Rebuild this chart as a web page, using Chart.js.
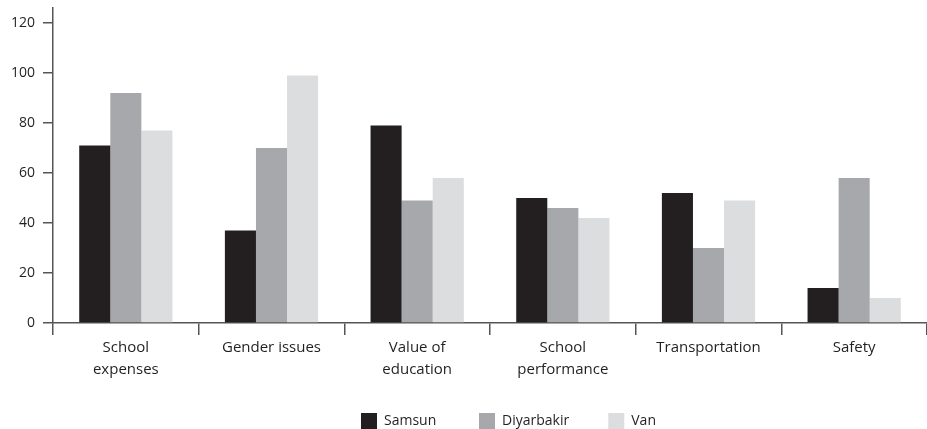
<!DOCTYPE html>
<html>
<head>
<meta charset="utf-8">
<script src="https://cdn.jsdelivr.net/npm/chart.js@4"></script>
<style>
  html, body { margin: 0; padding: 0; background: #fff; }
  #wrap { width: 927px; height: 429px; }
</style>
</head>
<body>
<div id="wrap"><canvas id="myChart"></canvas></div>
<script>
// data
var categories = [["School", "expenses"], "Gender issues", ["Value of", "education"], ["School", "performance"], "Transportation", "Safety"];
var samsun = [71, 37, 79, 50, 52, 14];
var diyarbakir = [92, 70, 49, 46, 30, 58];
var van = [77, 99, 58, 42, 49, 10];
var seriesNames = ["Samsun", "Diyarbakir", "Van"];

var ink = "#231f20";
Chart.defaults.font.family = "'Open Sans', sans-serif";
Chart.defaults.color = ink;

// move legend right and down, like the original
var legendShift = {
  id: 'legendShift',
  afterLayout: function(chart) {
    chart.legend.left += 45;
    chart.legend.right += 45;
    chart.legend.top += 10;
    chart.legend.bottom += 10;
  }
};

var gaps = ["         ", "        ", ""];

var ctx = document.getElementById("myChart").getContext("2d");
var myChart = new Chart(ctx, {
  type: 'bar',
  data: {
    labels: categories,
    datasets: [
      { label: seriesNames[0], data: samsun, backgroundColor: "#231f20" },
      { label: seriesNames[1], data: diyarbakir, backgroundColor: "#a7a8ab" },
      { label: seriesNames[2], data: van, backgroundColor: "#dcdddf" }
    ]
  },
  options: {
    responsive: true,
    maintainAspectRatio: false,
    animation: false,
    categoryPercentage: 0.64,
    barPercentage: 1,
    layout: { padding: { top: 8, right: 0, left: 0, bottom: 0 } },
    plugins: {
      tooltip: { enabled: false },
      legend: {
        position: 'bottom',
        labels: {
          boxWidth: 16,
          boxHeight: 16,
          padding: 10,
          font: { size: 14 },
          color: ink,
          generateLabels: function(chart) {
            return chart.data.datasets.map(function(ds, i) {
              return { text: ds.label + gaps[i], fillStyle: ds.backgroundColor, strokeStyle: ds.backgroundColor, lineWidth: 0, datasetIndex: i, fontColor: ink };
            });
          }
        }
      }
    },
    scales: {
      x: {
        grid: { display: true, drawOnChartArea: false, offset: true, tickLength: 12, color: "#555", lineWidth: 1.5 },
        border: { display: true, color: "#555", width: 1.5 },
        ticks: { font: { size: 15, lineHeight: 1.45 }, color: ink, padding: 2, maxRotation: 0, autoSkip: false },
        afterFit: function(scale) { scale.height = 70; }
      },
      y: {
        min: 0,
        max: 126,
        grid: { display: true, drawOnChartArea: false, tickLength: 10, color: "#555", lineWidth: 1.5 },
        border: { display: true, color: "#555", width: 1.5 },
        ticks: { stepSize: 20, includeBounds: false, font: { size: 14 }, color: ink, padding: 8 },
        afterFit: function(scale) { scale.width = 53; scale.paddingTop = 0; }
      }
    }
  },
  plugins: [legendShift]
});
</script>
</body>
</html>
